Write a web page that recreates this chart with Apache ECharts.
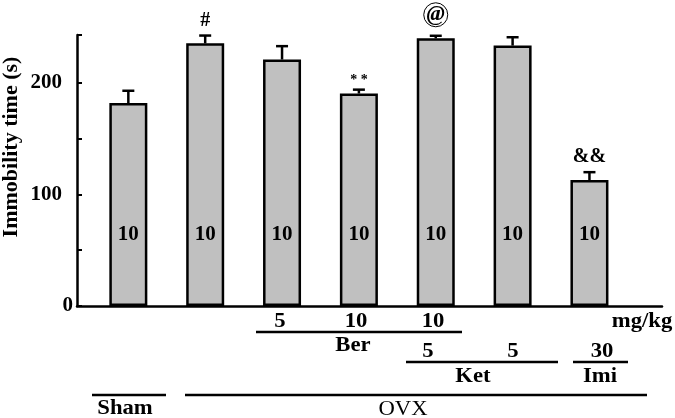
<!DOCTYPE html>
<html>
<head>
<meta charset="utf-8">
<script src="https://cdn.jsdelivr.net/npm/echarts@6/dist/echarts.min.js"></script>
<style>
  html, body { margin: 0; padding: 0; background: #fff; }
  #chart { width: 675px; height: 418px; }
</style>
</head>
<body>
<div id="chart"></div>
<script>
// groups, left to right
const groups = ['Sham', 'OVX', 'OVX+Ber5', 'OVX+Ber10', 'OVX+Ber10+Ket5', 'OVX+Ket5', 'OVX+Imi30'];
const values = [182, 235.5, 221, 190.5, 240, 233.5, 113];
const errors = [11, 7, 12, 3.5, 2.3, 7.5, 7];
const nLabels = ['10', '10', '10', '10', '10', '10', '10'];
const marks = ['', '#', '', '**', '@', '', '&&'];
const yTicks = [0, 100, 200];

const doseRow1 = ['5', '10', '10', 'mg/kg'];
const doseRow2 = ['5', '5', '30'];
const drugNames = ['Ber', 'Ket', 'Imi'];
const groupNames = ['Sham', 'OVX'];

const FONT = '"Liberation Serif", "Times New Roman", serif';
const chart = echarts.init(document.getElementById('chart'), null, { renderer: 'canvas' });

const barData = values.map((v, i) => [i + 1, v]);
const errData = values.map((v, i) => [i + 1, v, errors[i]]);

function txt(text, x, y, size, bold) {
  return {
    type: 'text', x: x, y: y, scaleX: 1.08,
    style: {
      text: text, fill: '#000', align: 'center', verticalAlign: 'middle',
      font: (bold ? 'bold ' : '') + size + 'px ' + FONT
    }
  };
}
function hline(x1, x2, y) {
  return { type: 'line', shape: { x1: x1, y1: y, x2: x2, y2: y }, style: { stroke: '#000', lineWidth: 2.5 } };
}

const option = {
  backgroundColor: '#fff',
  animation: false,
  grid: { left: 77, right: 13, top: 35, bottom: 112 },
  xAxis: {
    type: 'value', min: 0.332, max: 7.944,
    axisLine: { show: true, lineStyle: { color: '#000', width: 2.5 } },
    axisTick: { show: false }, axisLabel: { show: false }, splitLine: { show: false }
  },
  yAxis: {
    type: 'value', min: 0, max: 243, interval: 50,
    axisLine: { show: true, lineStyle: { color: '#000', width: 2.5 } },
    axisTick: { show: true, inside: true, length: 5, lineStyle: { color: '#000', width: 2 } },
    splitLine: { show: false },
    axisLabel: {
      margin: 4,
      formatter: function (v) {
        if (yTicks.indexOf(v) < 0) return '';
        return v === 0 ? '{z|0}' : '{a|' + v + '}';
      },
      rich: {
        a: { fontFamily: FONT, fontWeight: 'bold', fontSize: 21, color: '#000', padding: [0, 11, 0, 0] },
        z: { fontFamily: FONT, fontWeight: 'bold', fontSize: 21, color: '#000' }
      }
    }
  },
  series: [
    {
      type: 'bar',
      data: barData,
      barWidth: 38,
      itemStyle: { color: '#c0c0c0', borderColor: '#000', borderWidth: 2.5 },
      label: {
        show: true, position: 'insideBottom', distance: 61,
        formatter: p => nLabels[p.dataIndex],
        fontFamily: FONT, fontWeight: 'bold', fontSize: 21, color: '#000'
      },
      z: 2
    },
    {
      type: 'custom',
      data: errData,
      z: 3,
      renderItem: function (params, api) {
        const x = api.value(0), v = api.value(1), e = api.value(2);
        const base = api.coord([x, v]);
        const top = api.coord([x, v + e]);
        const children = [
          { type: 'line', shape: { x1: base[0], y1: base[1], x2: top[0], y2: top[1] }, style: { stroke: '#000', lineWidth: 2.5 } },
          { type: 'line', shape: { x1: top[0] - 6, y1: top[1], x2: top[0] + 6, y2: top[1] }, style: { stroke: '#000', lineWidth: 2.5 } }
        ];
        const m = marks[params.dataIndex];
        if (m === '@') {
          children.push({ type: 'circle', shape: { cx: top[0], cy: top[1] - 21, r: 12 }, style: { fill: 'none', stroke: '#000', lineWidth: 1 } });
          children.push({ type: 'text', x: top[0], y: top[1] - 21, style: { text: '@', align: 'center', verticalAlign: 'middle', fill: '#000', font: 'italic bold 22px ' + FONT } });
        } else if (m === '**') {
          children.push({ type: 'text', x: top[0], y: top[1] - 9, style: { text: '* *', align: 'center', verticalAlign: 'middle', fill: '#000', font: 'bold 14px ' + FONT } });
        } else if (m) {
          children.push({ type: 'text', x: top[0], y: top[1] - 15, style: { text: m, align: 'center', verticalAlign: 'middle', fill: '#000', font: 'bold 20px ' + FONT } });
        }
        return { type: 'group', children: children };
      }
    }
  ],
  graphic: [
    {
      type: 'text', x: 11, y: 147, rotation: Math.PI / 2,
      style: { text: 'Immobility time (s)', align: 'center', verticalAlign: 'middle', fill: '#000', font: 'bold 22px ' + FONT }
    },
    txt(doseRow1[0], 280, 322, 21, true),
    txt(doseRow1[1], 356, 322, 21, true),
    txt(doseRow1[2], 433, 322, 21, true),
    txt(doseRow1[3], 642, 322, 21, true),
    hline(256, 462, 332),
    txt(drugNames[0], 353, 346, 21, true),
    txt(doseRow2[0], 428, 352, 21, true),
    txt(doseRow2[1], 513, 352, 21, true),
    txt(doseRow2[2], 602, 352, 21, true),
    hline(406, 558, 362),
    hline(573, 628, 362),
    txt(drugNames[1], 473, 377, 21, true),
    txt(drugNames[2], 600, 377, 21, true),
    hline(92, 166, 395),
    hline(185, 647, 395),
    txt(groupNames[0], 125, 409, 21, true),
    txt(groupNames[1], 403, 409, 21, false)
  ]
};

chart.setOption(option);
window.addEventListener('resize', () => chart.resize());
</script>
</body>
</html>
